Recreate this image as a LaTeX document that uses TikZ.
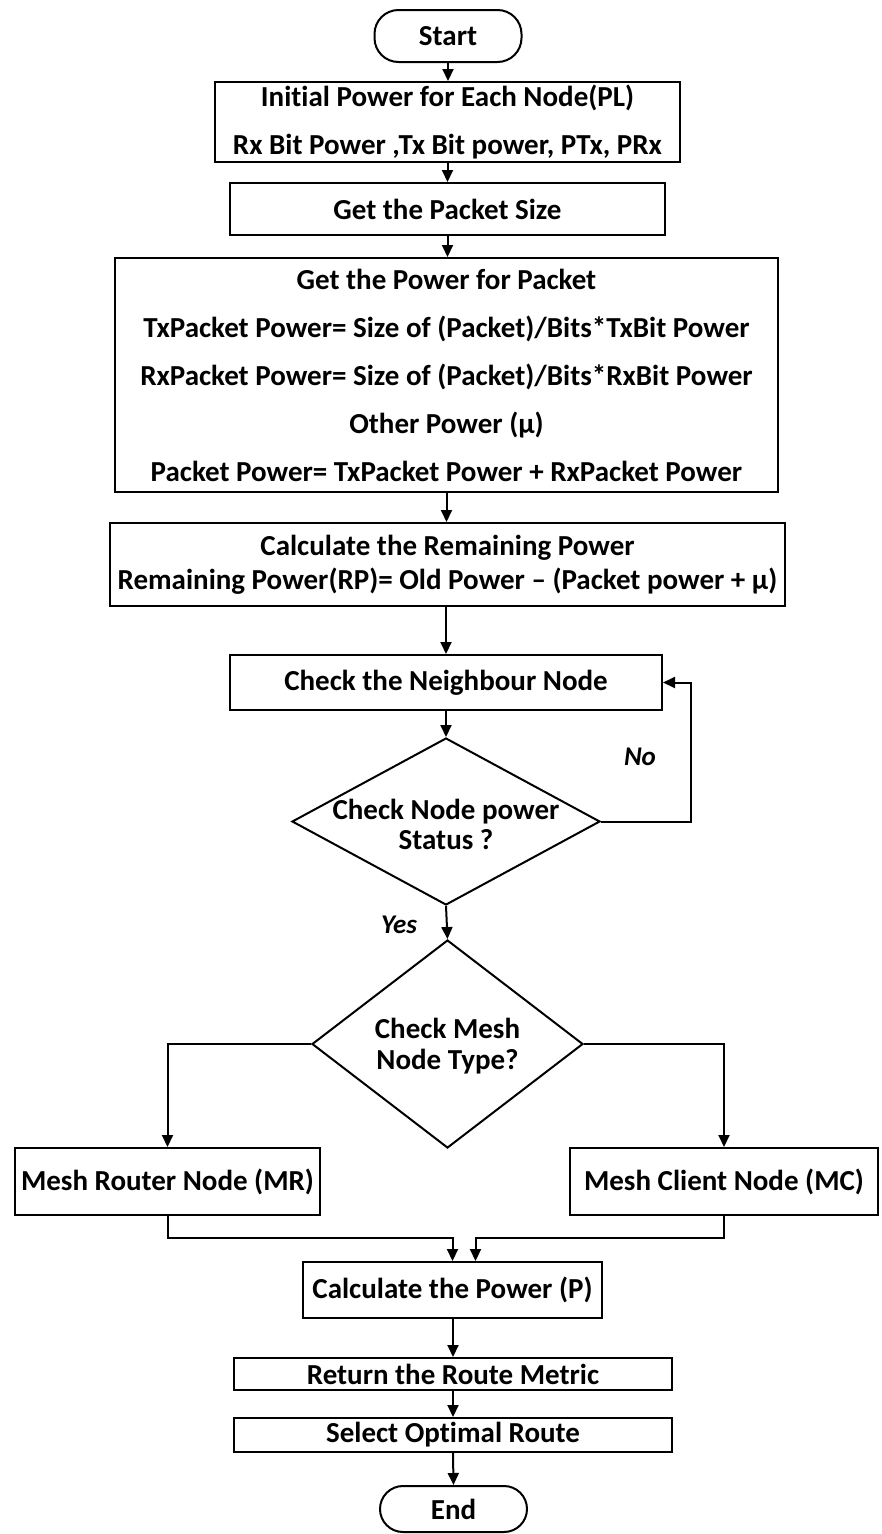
\documentclass[tikz,border=0pt]{standalone}
\usepackage{fontspec}
\setmainfont{Carlito}[Ligatures={NoCommon}]
\usetikzlibrary{arrows.meta,shapes.geometric,calc}
\begin{document}
\begin{tikzpicture}[x=1pt,y=-1pt,
  every node/.style={font=\fontsize{29}{34}\selectfont\bfseries},
  boxst/.style={draw,line width=2pt,rectangle,inner sep=0pt,align=center},
  termst/.style={draw,line width=2pt,rectangle,rounded corners=24pt,inner sep=0pt},
  decst/.style={draw,line width=2pt,diamond,inner sep=0pt},
  txtst/.style={inner sep=0pt,align=center},
  lblst/.style={inner sep=0pt,font=\fontsize{27}{30}\selectfont\bfseries\itshape},
  arr/.style={line width=2pt,-{Triangle[length=12pt,width=11pt]}}]
\useasboundingbox (0,0) rectangle (881,1534);
\node[termst,minimum width=147pt,minimum height=52pt] (start) at (448,36) {Start};
\node[boxst,minimum width=465pt,minimum height=80pt,font=\fontsize{29}{48}\selectfont\bfseries] (b1) at (447.5,122) {Initial Power for Each Node(PL)\\Rx Bit Power ,Tx Bit power, PTx, PRx};
\node[boxst,minimum width=435pt,minimum height=52pt] (b2) at (447.5,209) {Get the Packet Size};
\node[boxst,minimum width=663pt,minimum height=234pt,font=\fontsize{29}{48}\selectfont\bfseries] (b3) at (446.5,375) {Get the Power for Packet\\TxPacket Power= Size of (Packet)/Bits*TxBit Power\\RxPacket Power= Size of (Packet)/Bits*RxBit Power\\Other Power (μ)\\Packet Power= TxPacket Power + RxPacket Power};
\node[boxst,minimum width=675pt,minimum height=83pt,font=\fontsize{29}{34}\selectfont\bfseries] (b4) at (447.5,564.5) {Calculate the Remaining Power\\Remaining Power(RP)= Old Power – (Packet power + μ)};
\node[boxst,minimum width=432pt,minimum height=55pt] (b5) at (446,682.5) {Check the Neighbour Node};
\node[decst,minimum width=308pt,minimum height=167pt] (d1) at (446,821.5) {};
\node[txtst,font=\fontsize{29}{30}\selectfont\bfseries] (d1t) at (446,824) {Check Node power\\Status ?};
\node[decst,minimum width=271pt,minimum height=208pt] (d2) at (447.5,1044) {};
\node[txtst,font=\fontsize{29}{31}\selectfont\bfseries] (d2t) at (447.5,1046) {Check Mesh\\Node Type?};
\node[boxst,minimum width=305pt,minimum height=67pt] (mr) at (167.5,1181.5) {Mesh Router Node (MR)};
\node[boxst,minimum width=308pt,minimum height=67pt] (mc) at (724,1181.5) {Mesh Client Node (MC)};
\node[boxst,minimum width=299pt,minimum height=56pt] (b6) at (452.5,1290) {Calculate the Power (P)};
\node[boxst,minimum width=438pt,minimum height=32pt] (b7) at (453,1374) {Return the Route Metric};
\node[boxst,minimum width=438pt,minimum height=34pt] (b8) at (453,1435) {Select Optimal Route};
\node[termst,minimum width=147pt,minimum height=46pt,rounded corners=23pt] (end) at (453.5,1509) {End};
\node[lblst] (no) at (640,757) {No};
\node[lblst] (yes) at (399,925) {Yes};
\draw[arr] (start.south) -- (b1.north -| start.south);
\draw[arr] (b1.south) -- (b2.north);
\draw[arr] (b2.south) -- (b3.north -| b2.south);
\draw[arr] (b3.south) -- (b4.north -| b3.south);
\draw[arr] (b4.south -| b5.north) -- (b5.north);
\draw[arr] (b5.south) -- (d1.north);
\draw[arr] (d1.east) -- ++(90,0) |- (b5.east);
\draw[arr] (d1.south) -- (d2.north);
\draw[arr] (d2.west) -| (mr.north);
\draw[arr] (d2.east) -| (mc.north);
\draw[arr] (mr.south) -- ++(0,22) -| (b6.north);
\draw[arr] (mc.south) -- ++(0,22) -| ([xshift=23pt]b6.north);
\draw[arr] (b6.south -| b7.north) -- (b7.north);
\draw[arr] (b7.south) -- (b8.north);
\draw[arr] (b8.south) -- (end.north);
\end{tikzpicture}
\end{document}
